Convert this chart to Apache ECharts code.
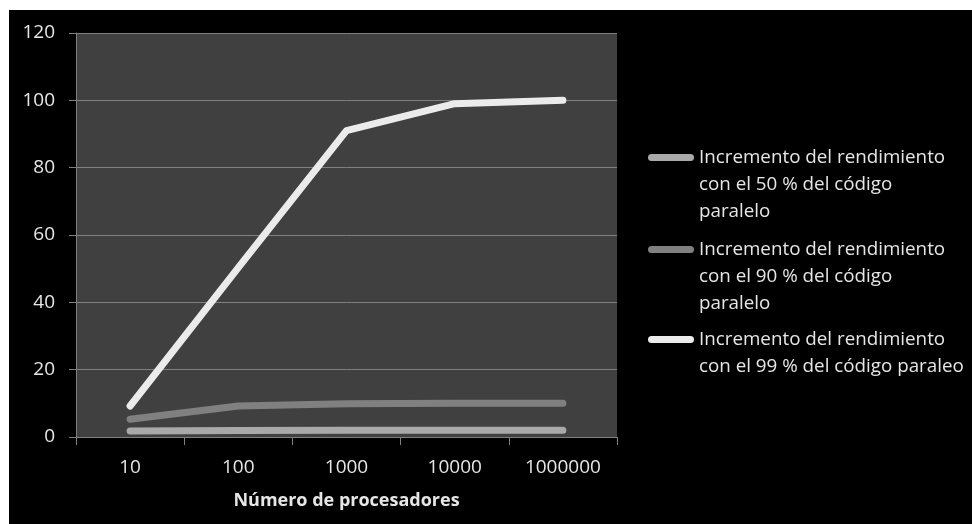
<!DOCTYPE html>
<html>
<head>
<meta charset="utf-8">
<script src="https://cdn.jsdelivr.net/npm/echarts@6/dist/echarts.min.js"></script>
<style>
  html, body { margin: 0; padding: 0; background: #ffffff; width: 972px; height: 524px; overflow: hidden; }
  #main { position: absolute; left: 9px; top: 10px; width: 963px; height: 514px; }
</style>
</head>
<body>
<div id="main"></div>
<script>
// ---- data ----
const categories = ['10', '100', '1000', '10000', '1000000'];
const seriesNames = [
  'Incremento del rendimiento\ncon el 50 % del código\nparalelo',
  'Incremento del rendimiento\ncon el 90 % del código\nparalelo',
  'Incremento del rendimiento\ncon el 99 % del código paraleo'
];
const values50 = [1.8, 1.9, 2.0, 2.0, 2.0];
const values90 = [5.3, 9.2, 9.9, 10.0, 10.0];
const values99 = [9.2, 50.3, 91.0, 99.0, 100.0];
const yTicks = { min: 0, max: 120, interval: 20 };
const xAxisTitle = 'Número de procesadores';

// ---- styles ----
const FONT = 'Open Sans';
const lineColors = ['#a9a9a9', '#808080', '#ebebeb'];
const seriesValues = [values50, values90, values99];
const LH = 27;
const legendTops = [75, 167, 284];

const chart = echarts.init(document.getElementById('main'), null, { renderer: 'canvas' });
const option = {
  backgroundColor: '#000000',
  animation: false,
  grid: {
    left: 67, top: 23, width: 541, height: 404,
    show: true, backgroundColor: '#404040', borderWidth: 0
  },
  legend: seriesNames.map((n, i) => {
    const lines = n.split('\n').length;
    const pad = '\n'.repeat(lines - 1);
    return {
      orient: 'vertical',
      left: 634, top: legendTops[i],
      itemWidth: 46, itemHeight: 7,
      icon: 'path://M3.5,0 L42.5,0 A3.5,3.5 0 0 1 42.5,7 L3.5,7 A3.5,3.5 0 0 1 3.5,0 Z',
      data: [n],
      formatter: name => pad + name,
      textStyle: { color: '#e6e6e6', fontFamily: FONT, fontSize: 18.8, lineHeight: LH }
    };
  }),
  xAxis: {
    type: 'category',
    data: categories,
    boundaryGap: true,
    axisLine: { show: true, lineStyle: { color: '#808080', width: 1 } },
    axisTick: { show: true, length: 8, lineStyle: { color: '#808080' } },
    axisLabel: { color: '#e6e6e6', fontFamily: FONT, fontSize: 19, margin: 21 },
    splitLine: { show: false },
    name: xAxisTitle,
    nameLocation: 'middle',
    nameGap: 55,
    nameTextStyle: { color: '#e6e6e6', fontFamily: FONT, fontSize: 18, fontWeight: 'bold' }
  },
  yAxis: {
    type: 'value',
    min: yTicks.min, max: yTicks.max, interval: yTicks.interval,
    axisLine: { show: true, lineStyle: { color: '#808080', width: 1 } },
    axisTick: { show: true, length: 7, lineStyle: { color: '#808080' } },
    axisLabel: { color: '#e6e6e6', fontFamily: FONT, fontSize: 19, margin: 21 },
    splitLine: { show: true, lineStyle: { color: '#808080', width: 1 } }
  },
  series: seriesNames.map((n, i) => ({
    name: n,
    type: 'line',
    data: seriesValues[i],
    symbol: 'none',
    color: lineColors[i],
    lineStyle: { color: lineColors[i], width: 7, cap: 'round', join: 'round' }
  }))
};
chart.setOption(option);
</script>
</body>
</html>
